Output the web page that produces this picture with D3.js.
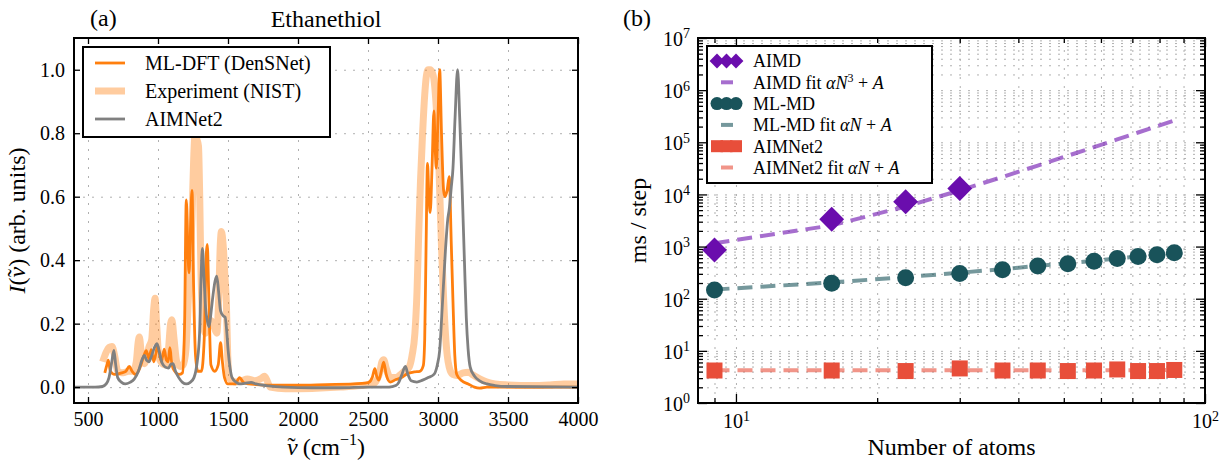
<!DOCTYPE html>
<html>
<head>
<meta charset="utf-8">
<script src="https://cdn.jsdelivr.net/npm/d3@7"></script>
<style>
body { margin: 0; background: #fff; }
svg { font-family: "Liberation Serif", "DejaVu Serif", serif; }
</style>
</head>
<body>
<svg id="chart" width="1220" height="463"></svg>
<script>
// ---- data: panel (a) spectra, [wavenumber, intensity]
const mlDft = [[620,0.045],[635,0.07],[645,0.085],[660,0.05],[690,0.04],[740,0.045],[770,0.05],[795,0.065],[815,0.05],[840,0.04],[870,0.06],[900,0.1],[916,0.115],[935,0.09],[952,0.118],[970,0.08],[998,0.13],[1012,0.1],[1025,0.08],[1044,0.12],[1060,0.085],[1072,0.08],[1085,0.124],[1100,0.07],[1120,0.05],[1150,0.04],[1175,0.045],[1190,0.2],[1202,0.59],[1212,0.45],[1222,0.36],[1232,0.5],[1243,0.62],[1255,0.3],[1268,0.1],[1284,0.05],[1310,0.05],[1330,0.15],[1345,0.42],[1352,0.45],[1362,0.3],[1378,0.07],[1405,0.05],[1430,0.07],[1447,0.14],[1460,0.08],[1475,0.03],[1500,0.01],[1550,0.01],[1583,0.03],[1610,0.015],[1650,0.01],[1700,0.008],[1800,0.006],[2000,0.006],[2200,0.008],[2400,0.01],[2500,0.014],[2530,0.03],[2549,0.058],[2562,0.035],[2577,0.022],[2595,0.05],[2612,0.079],[2630,0.04],[2658,0.016],[2700,0.024],[2740,0.03],[2780,0.042],[2830,0.048],[2870,0.05],[2895,0.068],[2905,0.15],[2915,0.45],[2925,0.705],[2935,0.6],[2944,0.55],[2958,0.7],[2971,0.87],[2980,0.75],[2988,0.69],[3000,0.85],[3012,1.0],[3025,0.8],[3040,0.62],[3050,0.6],[3065,0.62],[3080,0.663],[3095,0.45],[3107,0.27],[3120,0.1],[3134,0.04],[3170,0.02],[3216,0.01],[3260,0.0],[3298,-0.003],[3350,0.0],[3500,0.0],[4000,0.0]];

const experiment = [[605,0.08],[630,0.11],[650,0.125],[671,0.128],[690,0.1],[712,0.05],[740,0.045],[767,0.047],[790,0.05],[821,0.05],[845,0.08],[858,0.14],[867,0.158],[880,0.11],[903,0.074],[920,0.1],[935,0.126],[955,0.15],[970,0.25],[979,0.28],[990,0.2],[1005,0.1],[1020,0.08],[1052,0.07],[1075,0.12],[1090,0.2],[1099,0.212],[1115,0.15],[1134,0.08],[1160,0.065],[1180,0.07],[1200,0.12],[1216,0.27],[1230,0.4],[1243,0.54],[1255,0.72],[1265,0.8],[1278,0.78],[1289,0.76],[1298,0.6],[1306,0.38],[1320,0.22],[1338,0.17],[1355,0.2],[1379,0.21],[1400,0.19],[1420,0.17],[1435,0.3],[1445,0.45],[1453,0.49],[1465,0.45],[1478,0.35],[1488,0.27],[1498,0.1],[1507,0.03],[1556,0.016],[1600,0.02],[1638,0.026],[1692,0.02],[1740,0.028],[1760,0.034],[1780,0.02],[1801,0.0],[1910,-0.005],[2100,-0.004],[2300,0.0],[2450,0.005],[2536,0.01],[2580,0.04],[2600,0.08],[2612,0.086],[2630,0.06],[2658,0.03],[2700,0.03],[2726,0.037],[2760,0.05],[2794,0.063],[2815,0.1],[2835,0.17],[2850,0.3],[2862,0.48],[2875,0.65],[2890,0.8],[2905,0.92],[2917,0.98],[2930,1.0],[2944,1.0],[2960,0.99],[2971,0.97],[2985,0.9],[2998,0.8],[3012,0.62],[3026,0.43],[3040,0.28],[3053,0.17],[3066,0.1],[3080,0.063],[3105,0.04],[3134,0.037],[3180,0.045],[3216,0.047],[3250,0.038],[3298,0.026],[3350,0.016],[3407,0.01],[3500,0.007],[3679,0.005],[3800,0.007],[3900,0.01],[4000,0.01]];

const aimnet2 = [[400,0.0],[550,0.0],[603,0.002],[630,0.01],[650,0.03],[670,0.08],[685,0.116],[698,0.07],[712,0.03],[740,0.015],[767,0.01],[800,0.015],[830,0.025],[860,0.05],[885,0.085],[903,0.1],[918,0.085],[935,0.08],[955,0.1],[975,0.125],[993,0.137],[1010,0.11],[1030,0.075],[1052,0.063],[1075,0.06],[1092,0.072],[1107,0.074],[1125,0.05],[1148,0.03],[1175,0.015],[1202,0.01],[1230,0.015],[1257,0.03],[1280,0.08],[1297,0.17],[1308,0.35],[1317,0.437],[1328,0.35],[1340,0.25],[1352,0.21],[1365,0.19],[1380,0.24],[1393,0.29],[1408,0.335],[1420,0.35],[1433,0.3],[1447,0.24],[1465,0.225],[1480,0.22],[1490,0.18],[1501,0.116],[1515,0.06],[1529,0.03],[1560,0.015],[1583,0.01],[1620,0.012],[1665,0.015],[1700,0.01],[1774,0.005],[1900,0.0],[2100,-0.002],[2300,-0.002],[2500,0.0],[2650,0.0],[2699,0.005],[2720,0.015],[2740,0.037],[2767,0.065],[2785,0.04],[2808,0.02],[2849,0.016],[2890,0.022],[2930,0.03],[2971,0.04],[2995,0.07],[3012,0.116],[3030,0.25],[3053,0.43],[3070,0.53],[3080,0.56],[3095,0.63],[3107,0.69],[3122,0.85],[3140,1.0],[3155,0.85],[3175,0.59],[3190,0.38],[3202,0.22],[3215,0.12],[3230,0.063],[3260,0.035],[3298,0.02],[3350,0.01],[3407,0.005],[3500,0.002],[4000,0.0]];

const xTicksA = [500, 1000, 1500, 2000, 2500, 3000, 3500, 4000];
const yTicksA = [0.0, 0.2, 0.4, 0.6, 0.8, 1.0];

// ---- data: panel (b) timings
const atoms = [9, 16, 23, 30, 37, 44, 51, 58, 65, 72, 79, 86];
const aimdTime = [860, 3340, 7260, 13000];
const aimdFit = [1160, 2550, 5860, 11940, 21640, 35800, 55260, 80870, 113460, 153900, 203000, 261700];
const mlmdTime = [147, 198, 253, 305, 360, 425, 470, 521, 590, 648, 699, 760];
const mlmdFit = [150, 205, 260, 315, 370, 425, 480, 535, 590, 645, 700, 755];
const aimnetTime = [4.2, 4.2, 4.1, 4.6, 4.2, 4.2, 4.1, 4.2, 4.4, 4.1, 4.1, 4.3];
const aimnetFit = [4.25, 4.25, 4.25, 4.25, 4.25, 4.26, 4.26, 4.26, 4.27, 4.27, 4.27, 4.28];

const xMajorB = [10, 100];
const xMinorB = [9, 20, 30, 40, 50, 60, 70, 80, 90];
const yMajorB = [1, 10, 100, 1e3, 1e4, 1e5, 1e6, 1e7];

const svg = d3.select("#chart");
const gridColor = "#b0b0b0";

// italic nu with a tilde placed over it
function nuTilde(t) {
    t.append("tspan").attr("font-style", "italic").text("\u03BD");
    t.append("tspan").attr("dx", "-0.42em").attr("dy", "-0.05em").text("\u02DC");
}

// =================== panel (a)
const A = {left: 74, right: 578, top: 38, bottom: 403};
const xA = d3.scaleLinear().domain([400, 4000]).range([A.left, A.right]);
const yA = d3.scaleLinear().domain([-0.05, 1.1]).range([A.bottom, A.top]);

svg.append("defs").append("clipPath").attr("id", "clipA")
    .append("rect").attr("x", A.left).attr("y", A.top)
    .attr("width", A.right - A.left).attr("height", A.bottom - A.top);

// grid
svg.append("g")
    .attr("transform", `translate(0,${A.bottom})`)
    .call(d3.axisBottom(xA).tickValues(xTicksA).tickSize(-(A.bottom - A.top)).tickFormat(""))
    .call(g => g.select(".domain").remove())
    .selectAll("line").attr("stroke", gridColor).attr("stroke-dasharray", "2,7");
svg.append("g")
    .attr("transform", `translate(${A.left},0)`)
    .call(d3.axisLeft(yA).tickValues(yTicksA).tickSize(-(A.right - A.left)).tickFormat(""))
    .call(g => g.select(".domain").remove())
    .selectAll("line").attr("stroke", gridColor).attr("stroke-dasharray", "2,7");

// spectra
const lineA = d3.line().x(d => xA(d[0])).y(d => yA(d[1])).curve(d3.curveMonotoneX);
const plotA = svg.append("g").attr("clip-path", "url(#clipA)");
plotA.append("path").datum(mlDft).attr("d", lineA)
    .attr("fill", "none").attr("stroke", "#ff7f0e").attr("stroke-width", 2.8).attr("stroke-linejoin", "round");
plotA.append("path").datum(experiment).attr("d", lineA)
    .attr("fill", "none").attr("stroke", "#ff7f0e").attr("stroke-opacity", 0.4).attr("stroke-width", 7).attr("stroke-linejoin", "round");
plotA.append("path").datum(aimnet2).attr("d", lineA)
    .attr("fill", "none").attr("stroke", "#808080").attr("stroke-width", 2.8).attr("stroke-linejoin", "round");

// ticks + labels
function styleTicks(g, size) {
    g.select(".domain").remove();
    g.selectAll("line").attr("stroke", "#000").attr("stroke-width", 1.3);
    g.selectAll("text").attr("font-size", size).attr("fill", "#000").attr("font-family", "Liberation Serif");
}
svg.append("g").attr("transform", `translate(0,${A.bottom})`)
    .call(d3.axisBottom(xA).tickValues(xTicksA).tickSizeInner(-6).tickSizeOuter(0).tickPadding(9).tickFormat(d3.format("d")))
    .call(g => styleTicks(g, 20));
svg.append("g").attr("transform", `translate(0,${A.top})`)
    .call(d3.axisTop(xA).tickValues(xTicksA).tickSizeInner(-6).tickSizeOuter(0).tickFormat(""))
    .call(g => styleTicks(g, 20));
svg.append("g").attr("transform", `translate(${A.left},0)`)
    .call(d3.axisLeft(yA).tickValues(yTicksA).tickSizeInner(-6).tickSizeOuter(0).tickPadding(9).tickFormat(d3.format(".1f")))
    .call(g => styleTicks(g, 20));
svg.append("g").attr("transform", `translate(${A.right},0)`)
    .call(d3.axisRight(yA).tickValues(yTicksA).tickSizeInner(-6).tickSizeOuter(0).tickFormat(""))
    .call(g => styleTicks(g, 20));

svg.append("rect").attr("x", A.left).attr("y", A.top)
    .attr("width", A.right - A.left).attr("height", A.bottom - A.top)
    .attr("fill", "none").attr("stroke", "#000").attr("stroke-width", 2);

// legend (a)
const legA = svg.append("g");
legA.append("rect").attr("x", 83).attr("y", 47).attr("width", 247).attr("height", 90)
    .attr("fill", "#fff").attr("stroke", "#000").attr("stroke-width", 2);
const legItemsA = [
    {label: "ML-DFT (DenSNet)", color: "#ff7f0e", op: 1, w: 2.8},
    {label: "Experiment (NIST)", color: "#ff7f0e", op: 0.4, w: 7},
    {label: "AIMNet2", color: "#808080", op: 1, w: 2.8}
];
legItemsA.forEach((d, i) => {
    const y = 63 + i * 28;
    legA.append("line").attr("x1", 95).attr("x2", 125).attr("y1", y).attr("y2", y)
        .attr("stroke", d.color).attr("stroke-opacity", d.op).attr("stroke-width", d.w);
    legA.append("text").attr("x", 145).attr("y", y).attr("dy", "0.35em")
        .attr("font-size", 20).text(d.label);
});

// texts (a)
svg.append("text").attr("x", 90).attr("y", 26).attr("font-size", 24).text("(a)");
svg.append("text").attr("x", (A.left + A.right) / 2).attr("y", 27).attr("text-anchor", "middle")
    .attr("font-size", 24).text("Ethanethiol");
const xlabA = svg.append("text").attr("x", (A.left + A.right) / 2).attr("y", 455)
    .attr("text-anchor", "middle").attr("font-size", 24);
nuTilde(xlabA);
xlabA.append("tspan").attr("dx", "0.3em").attr("dy", "0.05em").text("(cm");
xlabA.append("tspan").attr("dy", -10).attr("font-size", 16).text("\u22121");
xlabA.append("tspan").attr("dy", 10).text(")");
const ylabA = svg.append("text").attr("transform", `translate(25,${(A.top + A.bottom) / 2}) rotate(-90)`)
    .attr("text-anchor", "middle").attr("font-size", 24);
ylabA.append("tspan").attr("font-style", "italic").text("I");
ylabA.append("tspan").text("(");
nuTilde(ylabA);
ylabA.append("tspan").attr("dx", "0.09em").attr("dy", "0.05em").text(")\u00A0(arb. units)");

// =================== panel (b)
const B = {left: 698, right: 1205, top: 38, bottom: 403};
const xB = d3.scaleLog().domain([8.3, 100]).range([B.left, B.right]);
const yB = d3.scaleLog().domain([1, 1e7]).range([B.bottom, B.top]);
const yMinorB = [];
yMajorB.slice(0, -1).forEach(p => { for (let k = 2; k <= 9; k++) yMinorB.push(p * k); });

svg.append("defs").append("clipPath").attr("id", "clipB")
    .append("rect").attr("x", B.left).attr("y", B.top)
    .attr("width", B.right - B.left).attr("height", B.bottom - B.top);

// grid, major and minor
svg.append("g").attr("transform", `translate(0,${B.bottom})`)
    .call(d3.axisBottom(xB).tickValues(xMajorB.concat(xMinorB)).tickSize(-(B.bottom - B.top)).tickFormat(""))
    .call(g => g.select(".domain").remove())
    .selectAll("line").attr("stroke", gridColor).attr("stroke-dasharray", "2,7");
svg.append("g").attr("transform", `translate(${B.left},0)`)
    .call(d3.axisLeft(yB).tickValues(yMajorB.concat(yMinorB)).tickSize(-(B.right - B.left)).tickFormat(""))
    .call(g => g.select(".domain").remove())
    .selectAll("line").attr("stroke", gridColor).attr("stroke-dasharray", "2,7");

const colAimd = "#6a0dad", colMl = "#19535a", colNet = "#e84e3a";
const plotB = svg.append("g").attr("clip-path", "url(#clipB)");
const fitLine = d3.line().x(d => xB(d[0])).y(d => yB(d[1]));

// fit lines underneath
[[aimdFit, colAimd], [mlmdFit, colMl], [aimnetFit, colNet]].forEach(([vals, col]) => {
    plotB.append("path").datum(atoms.map((n, i) => [n, vals[i]])).attr("d", fitLine)
        .attr("fill", "none").attr("stroke", col).attr("stroke-opacity", 0.6)
        .attr("stroke-width", 4).attr("stroke-dasharray", "15,8");
});

const diamond = d3.symbol().type(d3.symbolSquare);
plotB.selectAll(".aimd").data(aimdTime).join("path")
    .attr("d", diamond.size(310)())
    .attr("transform", (d, i) => `translate(${xB(atoms[i])},${yB(d)}) rotate(45)`)
    .attr("fill", colAimd);
plotB.selectAll(".mlmd").data(mlmdTime).join("circle")
    .attr("cx", (d, i) => xB(atoms[i])).attr("cy", d => yB(d)).attr("r", 8.5)
    .attr("fill", colMl);
plotB.selectAll(".net").data(aimnetTime).join("rect")
    .attr("x", (d, i) => xB(atoms[i]) - 8).attr("y", d => yB(d) - 8)
    .attr("width", 16).attr("height", 16).attr("fill", colNet);

// ticks
function powLabel(sel) {
    sel.each(function(d) {
        const t = d3.select(this).text("10");
        t.append("tspan").attr("dy", "-0.55em").attr("font-size", 14).text(Math.round(Math.log10(d)));
    });
}
svg.append("g").attr("transform", `translate(0,${B.bottom})`)
    .call(d3.axisBottom(xB).tickValues(xMajorB).tickSizeInner(-9).tickSizeOuter(0).tickPadding(11))
    .call(g => styleTicks(g, 20))
    .call(g => g.selectAll("text").call(powLabel));
svg.append("g").attr("transform", `translate(0,${B.bottom})`)
    .call(d3.axisBottom(xB).tickValues(xMinorB).tickSizeInner(-5).tickSizeOuter(0).tickFormat(""))
    .call(g => styleTicks(g, 20));
svg.append("g").attr("transform", `translate(0,${B.top})`)
    .call(d3.axisTop(xB).tickValues(xMajorB).tickSizeInner(-9).tickSizeOuter(0).tickFormat(""))
    .call(g => styleTicks(g, 20));
svg.append("g").attr("transform", `translate(0,${B.top})`)
    .call(d3.axisTop(xB).tickValues(xMinorB).tickSizeInner(-5).tickSizeOuter(0).tickFormat(""))
    .call(g => styleTicks(g, 20));
svg.append("g").attr("transform", `translate(${B.left},0)`)
    .call(d3.axisLeft(yB).tickValues(yMajorB).tickSizeInner(-9).tickSizeOuter(0).tickPadding(8))
    .call(g => styleTicks(g, 20))
    .call(g => g.selectAll("text").attr("dy", "0.38em").call(powLabel));
svg.append("g").attr("transform", `translate(${B.left},0)`)
    .call(d3.axisLeft(yB).tickValues(yMinorB).tickSizeInner(-5).tickSizeOuter(0).tickFormat(""))
    .call(g => styleTicks(g, 20));
svg.append("g").attr("transform", `translate(${B.right},0)`)
    .call(d3.axisRight(yB).tickValues(yMajorB).tickSizeInner(-9).tickSizeOuter(0).tickFormat(""))
    .call(g => styleTicks(g, 20));
svg.append("g").attr("transform", `translate(${B.right},0)`)
    .call(d3.axisRight(yB).tickValues(yMinorB).tickSizeInner(-5).tickSizeOuter(0).tickFormat(""))
    .call(g => styleTicks(g, 20));

svg.append("rect").attr("x", B.left).attr("y", B.top)
    .attr("width", B.right - B.left).attr("height", B.bottom - B.top)
    .attr("fill", "none").attr("stroke", "#000").attr("stroke-width", 2);

// legend (b)
const legB = svg.append("g");
legB.append("rect").attr("x", 707).attr("y", 46).attr("width", 225).attr("height", 137)
    .attr("fill", "#fff").attr("stroke", "#000").attr("stroke-width", 2);
const legItemsB = [
    {kind: "diamond", color: colAimd, label: ["AIMD"]},
    {kind: "fit", color: colAimd, label: ["AIMD fit ", "α", "N", "^3", " + ", "A"]},
    {kind: "circle", color: colMl, label: ["ML-MD"]},
    {kind: "fit", color: colMl, label: ["ML-MD fit ", "α", "N", " + ", "A"]},
    {kind: "square", color: colNet, label: ["AIMNet2"]},
    {kind: "fit", color: colNet, label: ["AIMNet2 fit ", "α", "N", " + ", "A"]}
];
const italic = new Set(["α", "N", "A"]);
legItemsB.forEach((d, i) => {
    const y = 61 + i * 21.3;
    const xs = [717, 726.5, 736];
    if (d.kind === "fit") {
        legB.append("line").attr("x1", 721).attr("x2", 733).attr("y1", y).attr("y2", y)
            .attr("stroke", d.color).attr("stroke-opacity", 0.6).attr("stroke-width", 4);
    } else {
        xs.forEach(x => {
            if (d.kind === "diamond") {
                legB.append("path").attr("d", d3.symbol().type(d3.symbolSquare).size(110)())
                    .attr("transform", `translate(${x},${y}) rotate(45)`).attr("fill", d.color);
            } else if (d.kind === "circle") {
                legB.append("circle").attr("cx", x).attr("cy", y).attr("r", 6.5).attr("fill", d.color);
            } else {
                legB.append("rect").attr("x", x - 6).attr("y", y - 6).attr("width", 12).attr("height", 12).attr("fill", d.color);
            }
        });
    }
    const t = legB.append("text").attr("x", 753).attr("y", y).attr("dy", "0.35em").attr("font-size", 18);
    let up = false;
    d.label.forEach(part => {
        if (part.startsWith("^")) {
            t.append("tspan").attr("dy", -7).attr("font-size", 12).text(part.slice(1));
            up = true;
        } else {
            const s = t.append("tspan").text(part);
            if (up) { s.attr("dy", 7); up = false; }
            if (italic.has(part)) s.attr("font-style", "italic");
        }
    });
});

// texts (b)
svg.append("text").attr("x", 623).attr("y", 26).attr("font-size", 24).text("(b)");
svg.append("text").attr("x", (B.left + B.right) / 2).attr("y", 455)
    .attr("text-anchor", "middle").attr("font-size", 24).text("Number of atoms");
svg.append("text").attr("transform", `translate(646,${(B.top + B.bottom) / 2}) rotate(-90)`)
    .attr("text-anchor", "middle").attr("font-size", 24).text("ms / step");
</script>
</body>
</html>
